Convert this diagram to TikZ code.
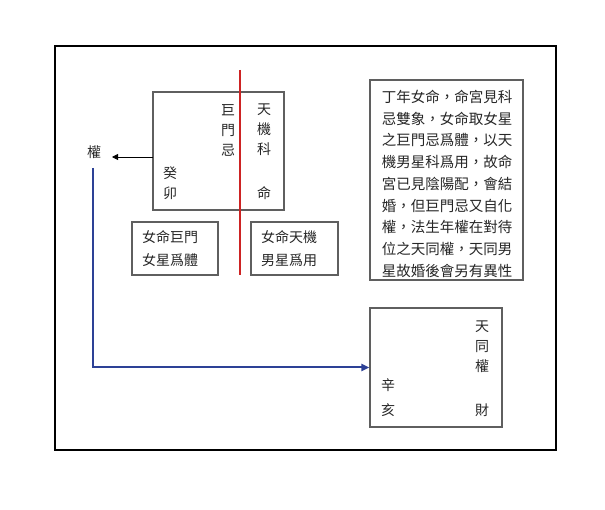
\documentclass[tikz,border=0pt]{standalone}
\usepackage{fontspec}
\newfontfamily\cjk{Noto Sans CJK TC}
\usetikzlibrary{arrows.meta}
\definecolor{boxgray}{RGB}{95,95,95}
\definecolor{linered}{RGB}{205,35,35}
\definecolor{lineblue}{RGB}{45,65,150}
\begin{document}
\begin{tikzpicture}[x=1pt,y=-1pt,
  box/.style={draw=boxgray,line width=1.1pt,inner sep=0pt},
  lbl/.style={font=\cjk\fontsize{14}{20}\selectfont,inner sep=0pt,align=center,text=black!85},
  pairlbl/.style={font=\cjk\fontsize{14}{23}\selectfont,inner sep=0pt,align=center,text=black!85},
  para/.style={font=\cjk\fontsize{14.5}{21.7}\selectfont,inner sep=0pt,align=center,text=black!85}]
\useasboundingbox (0,0) rectangle (605,510);
% outer frame
\node[draw=black,line width=2pt,minimum width=501pt,minimum height=404pt,inner sep=0pt] (frame) at (305.5,248) {};
% red divider
\coordinate (rtop) at (240,70);
\coordinate (rbot) at (240,275);
% boxes
\node[box,minimum width=131pt,minimum height=118pt] (ming) at (218.5,151) {};
\node[box,minimum width=86pt,minimum height=53pt] (leftbox) at (175,248.5) {};
\node[box,minimum width=87pt,minimum height=53pt] (rightbox) at (294.5,248.5) {};
\node[box,minimum width=153pt,minimum height=200pt] (textbox) at (446.5,180) {};
\node[box,minimum width=132pt,minimum height=119pt] (cai) at (436,367.5) {};
\draw[linered,line width=2pt] (rtop) -- (rbot);
% top box texts
\node[lbl] (jumen) at (228,130) {巨\\門\\忌};
\node[lbl] (tianji) at (264,130) {天\\機\\科};
\node[lbl] (mingzi) at (264,193) {命};
\node[lbl] (guimao) at (170,183.5) {癸\\卯};
% small boxes
\node[pairlbl] (lefttext) at (170,248.5) {女命巨門\\女星爲體};
\node[pairlbl] (righttext) at (289,248.5) {女命天機\\男星爲用};
% paragraph
\node[para] (note) at (447,183.8) {丁年女命，命宮見科\\忌雙象，女命取女星\\之巨門忌爲體，以天\\機男星科爲用，故命\\宮已見陰陽配，會結\\婚，但巨門忌又自化\\權，法生年權在對待\\位之天同權，天同男\\星故婚後會另有異性};
% bottom box texts
\node[lbl] (tiantong) at (482,347) {天\\同\\權};
\node[lbl] (caizi) at (482,410) {財};
\node[lbl,font=\cjk\fontsize{14}{25}\selectfont] (xinhai) at (388,397.5) {辛\\亥};
% quan label and arrow
\node[lbl] (quan) at (94,152) {權};
\coordinate (qtip) at (112,157);
\coordinate (qstart) at (153,157);
\draw[black,line width=0.8pt,-{Triangle[length=6pt,width=6pt]}] (qstart) -- (qtip);
% blue connector
\coordinate (bstart) at (93,168);
\draw[lineblue,line width=2pt,-{Triangle[length=8pt,width=7pt]}] (bstart) |- (cai.west);
\end{tikzpicture}
\end{document}
